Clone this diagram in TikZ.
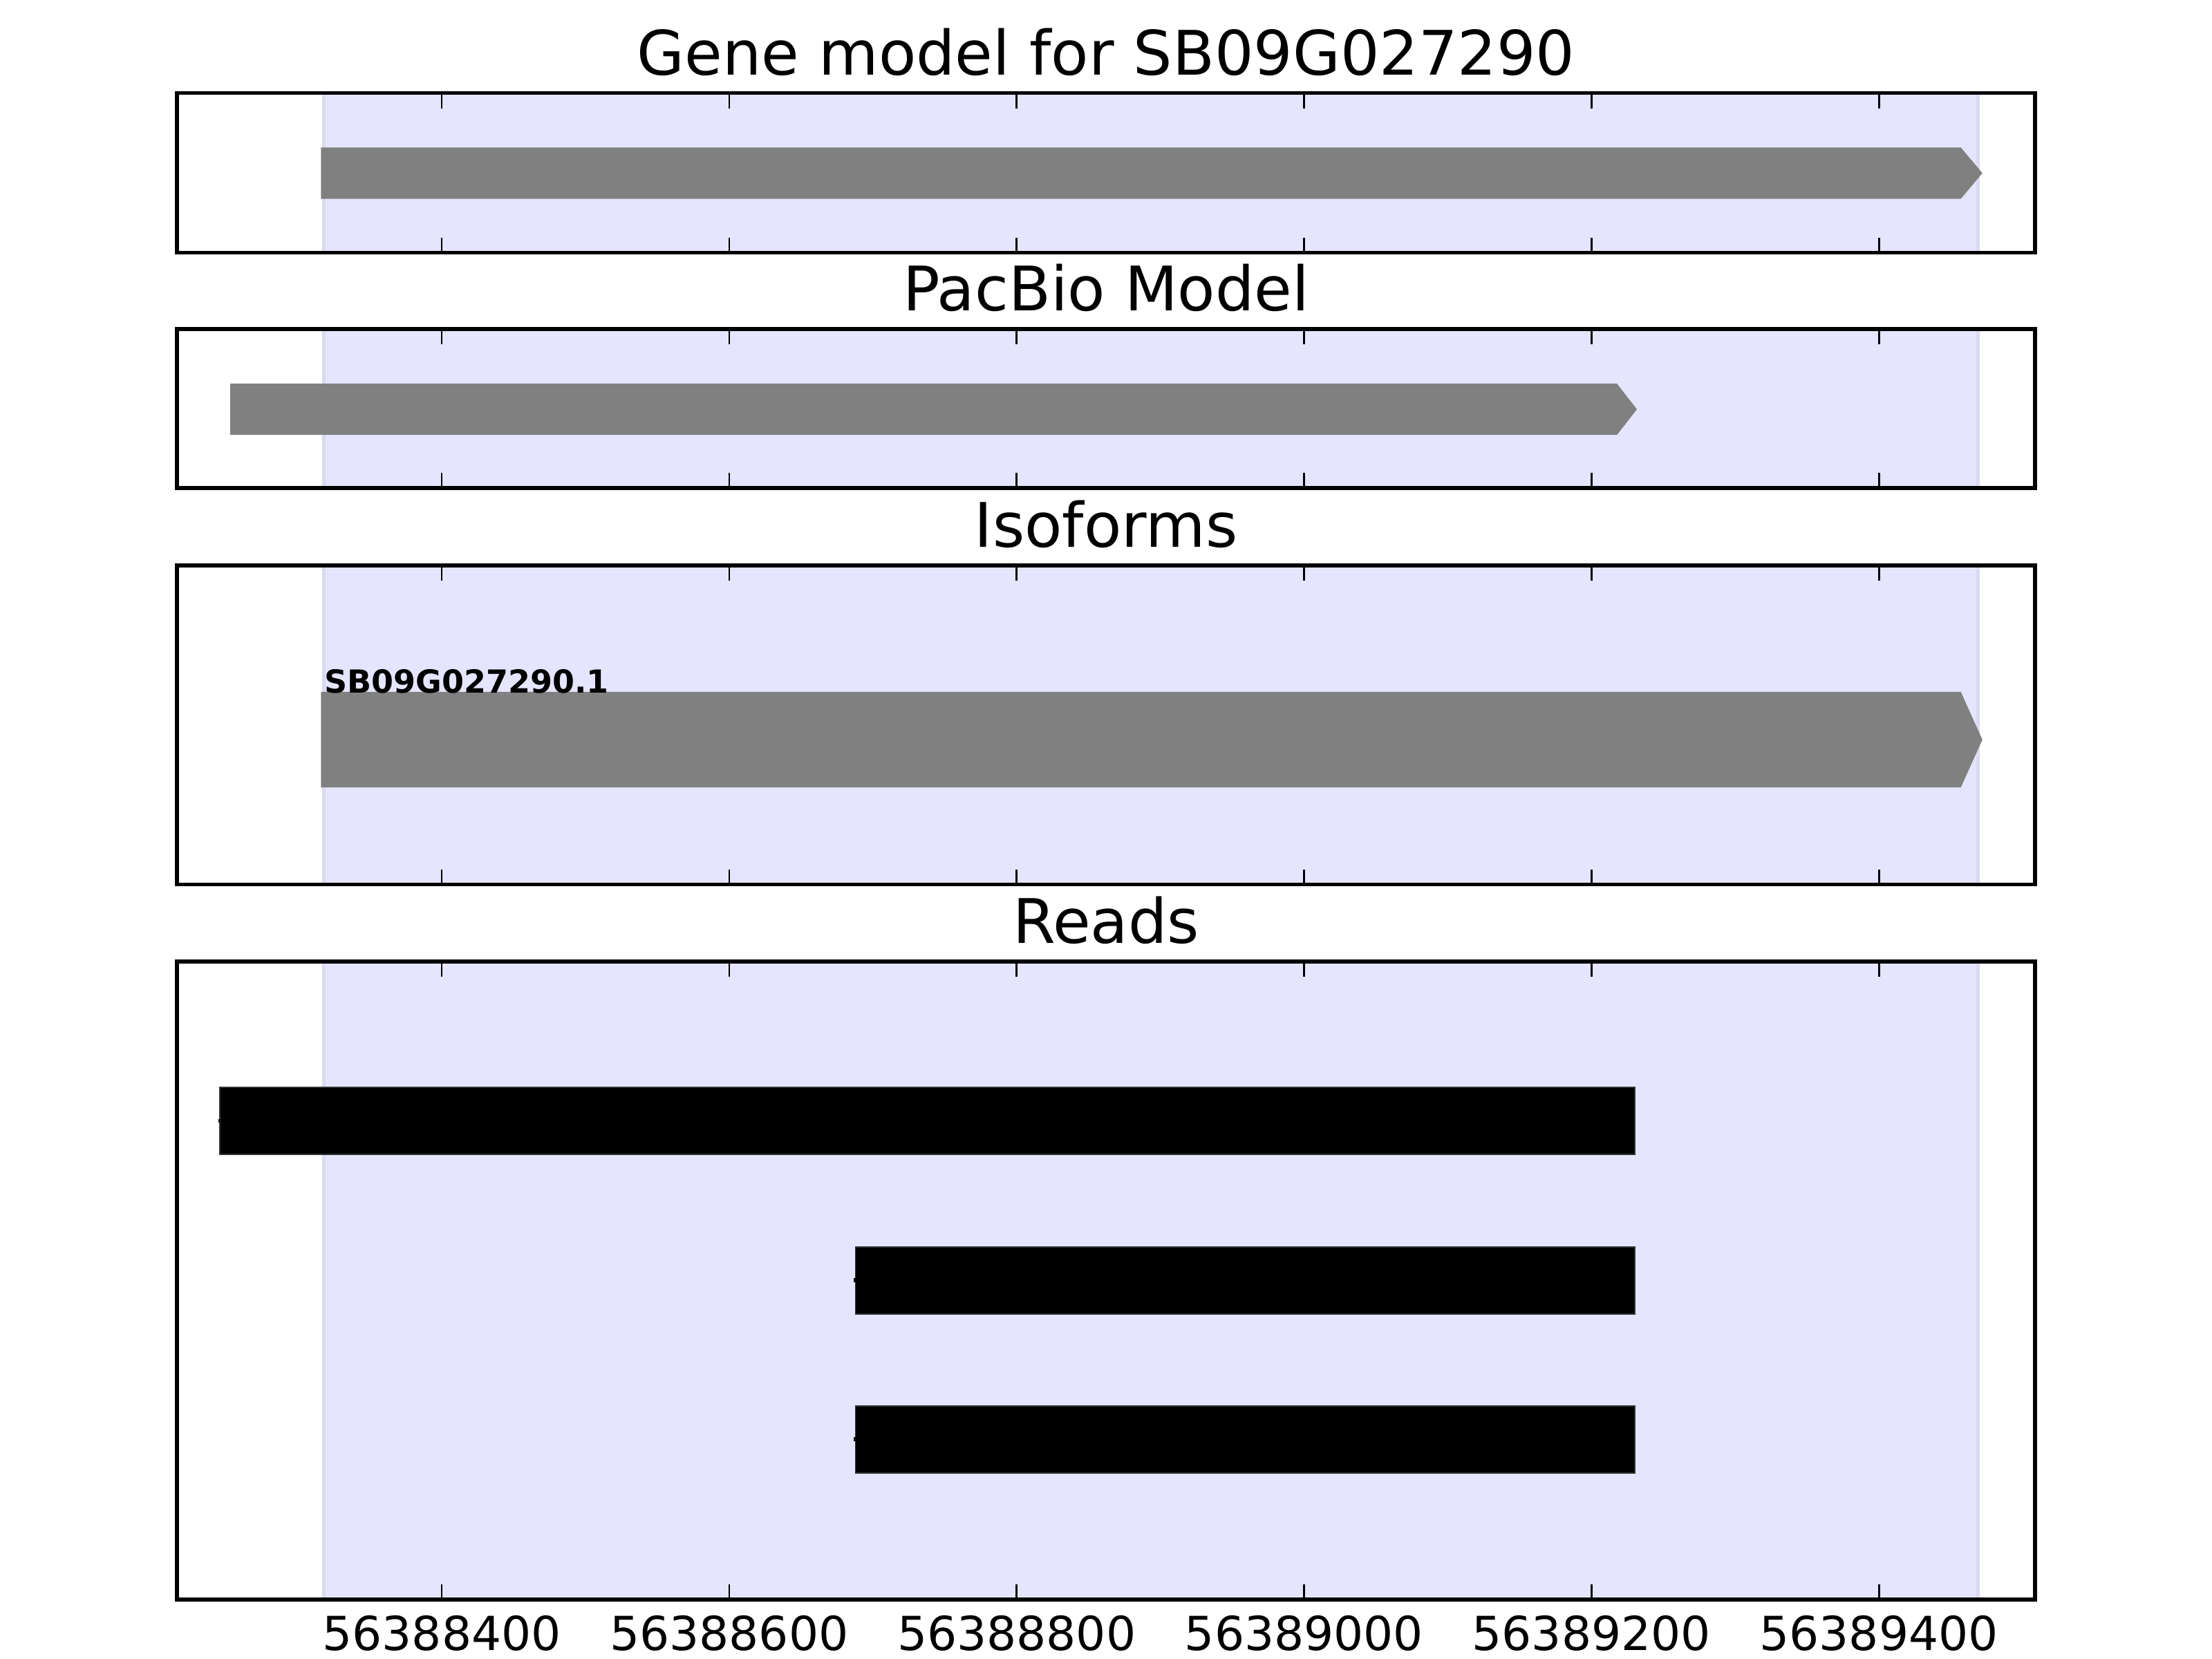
\documentclass[tikz,border=0pt]{standalone}
\usepackage{fontspec}
\setmainfont{DejaVu Sans}
\definecolor{spanblue}{RGB}{229,229,255}
\definecolor{spanedge}{RGB}{218,218,242}
\definecolor{exongray}{RGB}{128,128,128}

\begin{document}
\begin{tikzpicture}[x=0.013202cm, y=-0.00635cm,
  panel/.style={draw=black, line width=1pt},
  span/.style={fill=spanblue, draw=spanedge, line width=1pt},
  exon/.style={fill=exongray},
  read/.style={fill=black, draw=black!80, line width=0.3pt},
  tickmark/.style={line width=0.5pt},
  paneltitle/.style={anchor=base, inner sep=0pt, font=\fontsize{16.05}{19}\selectfont},
  ticklabel/.style={anchor=base, inner sep=0pt, font=\fontsize{12.25}{15}\selectfont}]
  % x runs in bp past 56388000, y in pixels down from the top edge
  \useasboundingbox (92.6,0) rectangle (1631.8,2400);
  % shaded gene span, same in all four panels
  \foreach \ya/\yb in {134.7/365.7, 475.8/706.3, 818/1279.8, 1391/2314.5}
    \draw[span] (318,\ya) rectangle (1469,\yb);
  % gene model, pacbio model and the one isoform, with arrow heads
  \fill[exon] (316,213.3) -- (1457,213.3) -- (1472,250.5) -- (1457,287.7) -- (316,287.7) -- cycle;
  \fill[exon] (252.8,555) -- (1217.7,555) -- (1231.6,592.2) -- (1217.7,629.3) -- (252.8,629.3) -- cycle;
  \fill[exon] (316,1001) -- (1457,1001) -- (1472,1070.2) -- (1457,1139.3) -- (316,1139.3) -- cycle;
  \node[anchor=base west, inner sep=0pt, font=\bfseries\fontsize{8.3}{10}\selectfont] (iso-lbl) at (318,1003) {SB09G027290.1};
  % reads
  \foreach \xa/\ya in {245.6/1573.3, 687.9/1804, 687.9/2034} {
    \draw[read] (\xa,\ya) rectangle (1230,\ya+97);
    \draw[line width=1pt] (\xa-1.2,\ya+48.5) -- (\xa,\ya+48.5);
  }
  % frames, inward ticks on top and bottom, titles
  \foreach \ya/\yb/\ttl/\nm in {134.7/365.7/Gene model for SB09G027290/gene,
      475.8/706.3/PacBio Model/pacbio, 818/1279.8/Isoforms/iso, 1391/2314.5/Reads/reads} {
    \foreach \v in {400,600,...,1400} {
      \draw[tickmark] (\v,\ya) -- (\v,\ya+22);
      \draw[tickmark] (\v,\yb) -- (\v,\yb-22);
    }
    \draw[panel] (215.8,\ya) rectangle (1508.7,\yb);
    \node[paneltitle] (ttl-\nm) at (862.25,\ya-26.4) {\ttl};
  }
  \foreach \v/\lab in {400/56388400, 600/56388600, 800/56388800, 1000/56389000, 1200/56389200, 1400/56389400}
    \node[ticklabel] (lbl-\v) at (\v,2388) {\lab};
\end{tikzpicture}
\end{document}
